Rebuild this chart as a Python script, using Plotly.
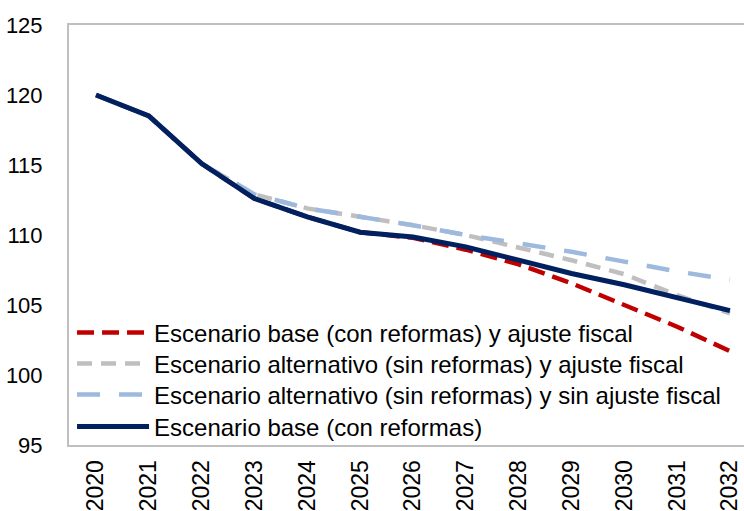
import plotly.graph_objects as go

years = ["2020", "2021", "2022", "2023", "2024", "2025", "2026",
         "2027", "2028", "2029", "2030", "2031", "2032"]

base_reformas = [120.0, 118.5, 115.1, 112.6, 111.3, 110.2, 109.85,
                 109.15, 108.2, 107.25, 106.45, 105.55, 104.6]
base_ajuste = [120.0, 118.5, 115.1, 112.6, 111.3, 110.2, 109.8,
               108.95, 107.9, 106.55, 105.0, 103.45, 101.7]
alt_ajuste = [120.0, 118.5, 115.1, 112.9, 111.9, 111.3, 110.7,
              110.0, 109.1, 108.2, 107.2, 105.7, 104.4]
alt_sin_ajuste = [120.0, 118.5, 115.1, 112.9, 111.9, 111.3, 110.7,
                  110.0, 109.4, 108.8, 108.1, 107.4, 106.8]

names = [
    "Escenario base (con reformas) y ajuste fiscal",
    "Escenario alternativo (sin reformas) y ajuste fiscal",
    "Escenario alternativo (sin reformas) y sin ajuste fiscal",
    "Escenario base (con reformas)",
]

FONT = "Liberation Sans, Arial, sans-serif"
AXIS_GREY = "#BFBFBF"

series = [
    (base_ajuste, dict(color="#C00000", width=4.5, dash="17px,8px")),
    (alt_ajuste, dict(color="#BFBFBF", width=4.5, dash="15px,9px")),
    (alt_sin_ajuste, dict(color="#9DB9DE", width=4.5, dash="23px,19px")),
    (base_reformas, dict(color="#002060", width=5)),
]
# one single-entry legend per series, stacked in the lower-left corner
legend_ids = ["legend", "legend2", "legend3", "legend4"]
legend_y = [0.2667, 0.1929, 0.1190, 0.0429]

fig = go.Figure()
for (vals, line), name, lid in zip(series, names, legend_ids):
    fig.add_trace(go.Scatter(x=years, y=vals, name=name, mode="lines",
                             line=line, legend=lid))

legend_style = dict(x=0.0045, xanchor="left", yanchor="middle",
                    bgcolor="rgba(0,0,0,0)", itemwidth=72,
                    font=dict(family=FONT, size=24, color="black"))
fig.update_layout(
    width=744, height=511,
    margin=dict(l=69, r=0, t=25, b=66, autoexpand=False),
    paper_bgcolor="white", plot_bgcolor="white",
    font=dict(family=FONT, size=22, color="black"),
    showlegend=True,
    **{lid: dict(legend_style, y=ly) for lid, ly in zip(legend_ids, legend_y)},
)
fig.update_xaxes(
    type="category", range=[-0.511, 12.266],
    showline=True, mirror=True, linecolor=AXIS_GREY, linewidth=2,
    showgrid=False, zeroline=False, ticks="", tickangle=-90,
    ticklabelstandoff=4,
    automargin=False, tickfont=dict(family=FONT, size=23),
)
fig.update_yaxes(
    range=[95, 125], dtick=5, tick0=95,
    showline=True, linecolor=AXIS_GREY, linewidth=2,
    showgrid=False, zeroline=False, ticks="", ticklabelstandoff=20,
    automargin=False, tickfont=dict(family=FONT, size=22),
)

fig.write_html("out.html")
